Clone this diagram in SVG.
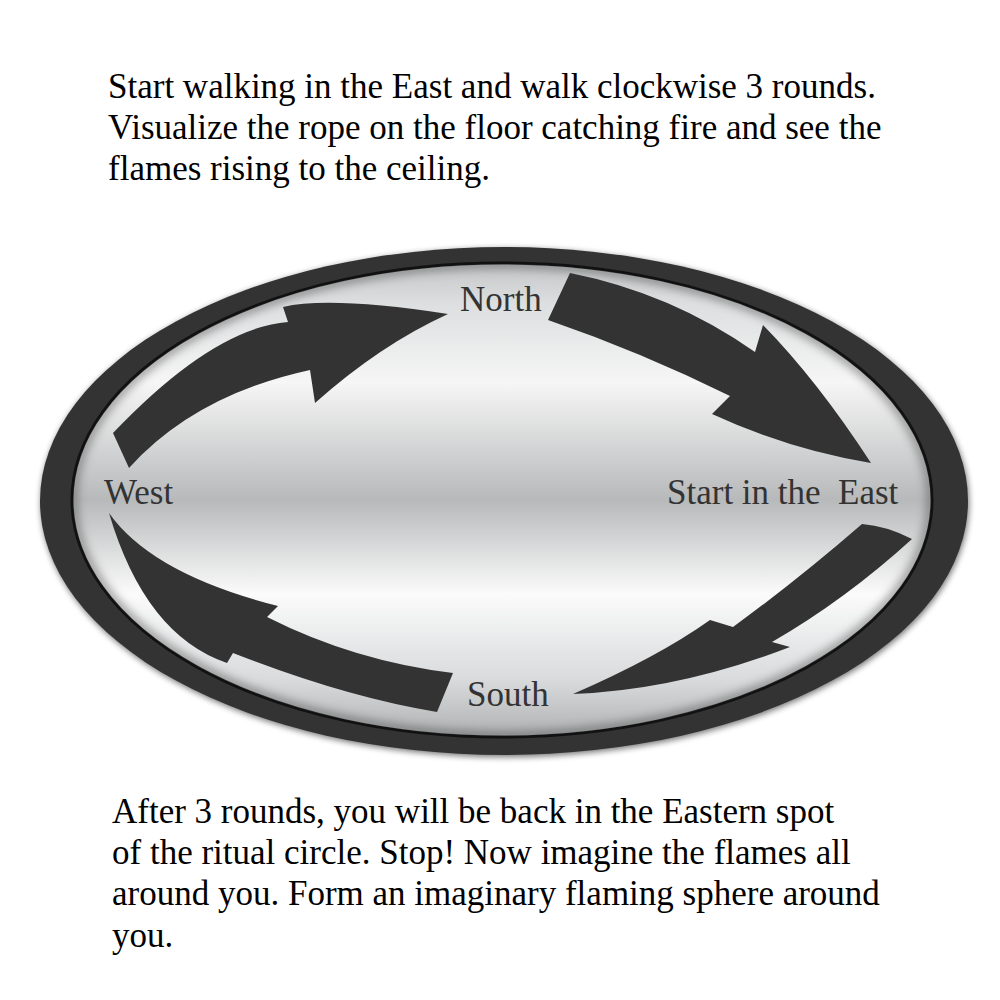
<svg xmlns="http://www.w3.org/2000/svg" width="1000" height="1000" viewBox="0 0 1000 1000">
<defs>
<style>
.body{font-family:"Liberation Serif","Times New Roman",serif;font-size:35px;fill:#000}
.lbl{font-family:"Liberation Serif","Times New Roman",serif;font-size:35px;fill:#333;white-space:pre}
.arrow{fill:#333}
</style>
<linearGradient id="silver" x1="0" y1="265" x2="0" y2="735" gradientUnits="userSpaceOnUse">
<stop offset="0" stop-color="#c4c6c7"/>
<stop offset="0.08" stop-color="#dcdedf"/>
<stop offset="0.25" stop-color="#f6f6f6"/>
<stop offset="0.5" stop-color="#b7b9ba"/>
<stop offset="0.7" stop-color="#fbfbfb"/>
<stop offset="0.88" stop-color="#d9dbdc"/>
<stop offset="1" stop-color="#b0b2b3"/>
</linearGradient>
<filter id="shadow" x="-10%" y="-10%" width="120%" height="120%">
<feGaussianBlur stdDeviation="3"/>
</filter>
<filter id="soft" x="-10%" y="-10%" width="120%" height="120%">
<feGaussianBlur stdDeviation="4"/>
</filter>
<clipPath id="innerClip"><ellipse cx="502" cy="500" rx="429" ry="236"/></clipPath>
</defs>
<rect width="1000" height="1000" fill="#fff"/>
<g id="intro-text">
<text class="body" x="108" y="98">Start walking in the East and walk clockwise 3 rounds.</text>
<text class="body" x="108" y="139">Visualize the rope on the floor catching fire and see the</text>
<text class="body" x="108" y="180">flames rising to the ceiling.</text>
</g>
<g id="ritual-circle">
<ellipse cx="505" cy="503" rx="464" ry="254" fill="#000" opacity="0.55" filter="url(#shadow)"/>
<ellipse cx="504" cy="501" rx="464" ry="254" fill="#333"/>
<ellipse cx="502" cy="500" rx="430" ry="237" fill="url(#silver)" stroke="#111" stroke-width="3"/>
<g clip-path="url(#innerClip)">
<ellipse cx="502" cy="500" rx="429" ry="236" fill="none" stroke="#555" stroke-width="10" opacity="0.5" filter="url(#soft)"/>
</g>
</g>
<g id="connectors">
<path id="arrow-west-north" class="arrow" d="M113,433 Q213,328 288,322 L283,307 Q330,296 448,314 Q380,345 315,403 L310,370 Q195,395 129,468 Z"/>
<path id="arrow-north-east" class="arrow" d="M570,273 Q671,293 755,352 L763,325 Q817,380 871,463 Q790,450 712,414 L730,396 Q641,352 548,320 Z"/>
<path id="arrow-east-south" class="arrow" d="M862,524 Q887,526 912,539 Q845,600 772,642 L790,647 Q678,690 573,694 Q658,657 710,620 L733,627 Q800,578 862,524 Z"/>
<path id="arrow-south-west" class="arrow" d="M453,673 Q354,661 267,617 L278,606 Q152,574 109,513 Q145,635 227,663 L233,653 Q345,697 437,712 Z"/>
</g>
<g id="node-north"><text class="lbl" x="460" y="311">North</text></g>
<g id="node-west"><text class="lbl" x="104" y="504">West</text></g>
<g id="node-east"><text class="lbl" x="667" y="504" xml:space="preserve">Start in the  East</text></g>
<g id="node-south"><text class="lbl" x="467" y="706">South</text></g>
<g id="outro-text">
<text class="body" x="112" y="823">After 3 rounds, you will be back in the Eastern spot</text>
<text class="body" x="112" y="864">of the ritual circle. Stop! Now imagine the flames all</text>
<text class="body" x="112" y="905">around you. Form an imaginary flaming sphere around</text>
<text class="body" x="112" y="947">you.</text>
</g>
</svg>
